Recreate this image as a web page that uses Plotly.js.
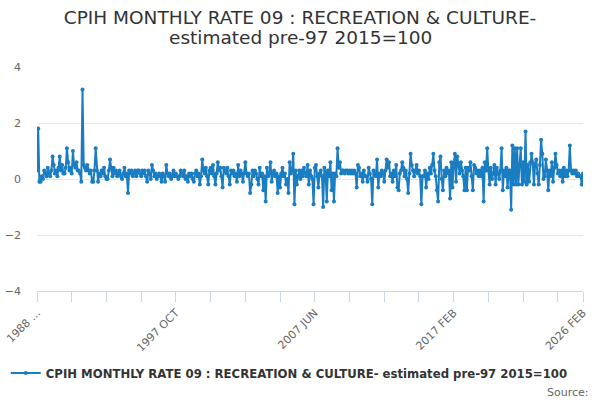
<!DOCTYPE html>
<html>
<head>
<meta charset="utf-8">
<script src="https://cdn.plot.ly/plotly-3.0.1.min.js"></script>
<style>
  body { margin: 0; background: #fff; }
  #chart { width: 600px; height: 400px; }
</style>
</head>
<body>
<div id="chart"></div>
<script>
// series runs monthly from 1988 FEB to 2026 FEB
var startYear = 1988
var startMonth = 1 // FEB
var monthNames = ["JAN", "FEB", "MAR", "APR", "MAY", "JUN", "JUL", "AUG", "SEP", "OCT", "NOV", "DEC"]

// monthly rate, % (one row per year)
var rates = [
  0.3, 1.8, -0.1, -0.1, 0.1, 0.0, 0.3, 0.2, 0.1, 0.4, 0.2,
  0.1, 0.3, 0.8, 0.5, 0.2, 0.3, 0.1, 0.4, 0.8, 0.3, 0.5, 0.2,
  0.2, 0.4, 1.1, 0.6, 0.3, 0.4, 0.2, 1.0, 0.5, 0.4, 0.6, 0.3,
  0.3, 0.2, -0.1, 3.2, 0.5, 0.4, 0.3, 0.5, 0.3, 0.2, 0.3, -0.1,
  -0.1, 0.3, 1.1, 0.3, -0.1, 0.2, 0.1, 0.3, 0.2, 0.4, 0.1, 0.0,
  0.0, 0.3, 0.7, 0.4, 0.1, 0.4, 0.2, 0.3, 0.1, 0.2, 0.3, 0.1,
  0.0, 0.2, 0.4, 0.1, 0.2, -0.5, 0.3, 0.2, 0.3, 0.1, 0.2, 0.3,
  0.1, 0.3, 0.3, 0.2, 0.1, 0.3, 0.2, 0.3, 0.1, -0.1, 0.3, 0.2,
  0.0, 0.5, 0.3, 0.1, 0.2, 0.0, 0.1, 0.2, 0.1, -0.1, 0.2, 0.1,
  -0.1, 0.5, 0.2, 0.1, 0.2, 0.0, 0.1, 0.3, 0.1, 0.2, 0.1, 0.0,
  0.1, 0.3, 0.2, 0.1, 0.3, 0.0, 0.1, -0.1, 0.2, 0.1, 0.2, 0.0,
  -0.1, 0.2, 0.3, 0.1, 0.2, -0.2, 0.1, 0.7, 0.3, 0.2, 0.4, 0.1,
  -0.2, 0.3, 0.4, 0.2, 0.5, 0.1, -0.2, 0.2, 0.6, 0.3, 0.4, 0.1,
  -0.3, 0.4, 0.3, 0.2, 0.4, 0.1, -0.2, 0.3, 0.2, 0.3, 0.1, 0.2,
  -0.1, 0.5, 0.1, 0.3, 0.2, -0.1, 0.2, 0.6, 0.2, 0.1, 0.2, -0.5,
  -0.2, 0.3, 0.1, 0.3, 0.2, 0.0, -0.2, 0.4, 0.1, 0.2, -0.4, 0.1,
  -0.8, 0.4, 0.1, 0.2, 0.6, -0.1, 0.2, 0.3, 0.1, 0.2, -0.5, 0.1,
  -0.3, 0.2, 0.4, 0.1, 0.2, -0.2, 0.0, -0.5, 0.6, 0.2, 0.3, 0.9,
  -0.9, 0.3, -0.2, 0.1, 0.3, 0.0, 0.3, 0.1, 0.4, 0.2, 0.1, 0.5,
  -0.2, 0.3, 0.1, 0.0, -0.9, 0.4, 0.5, 0.1, -0.3, 0.2, 0.3, 0.1,
  -1.0, 0.4, 0.2, -0.8, 0.3, 0.1, 0.6, -0.4, 0.2, -0.8, 0.2, 0.1,
  1.1, 0.4, 0.6, 0.2, 0.3, 0.3, 0.2, 0.3, 0.3, 0.2, 0.3, 0.2,
  0.3, 0.2, 0.3, 0.2, -0.3, 0.5, 0.4, 0.1, 0.2, -0.1, 0.3, 0.1,
  0.1, -0.1, 0.4, 0.2, 0.0, -0.9, 0.3, 0.2, 0.1, 0.7, -0.3, 0.2,
  0.1, 0.3, 0.2, -0.1, 0.3, 0.7, 0.4, 0.6, 0.1, 0.2, -0.1, 0.3,
  0.1, 0.5, -0.3, -0.4, 0.2, 0.3, 0.6, 0.4, 0.1, 0.3, 0.0, -0.5,
  0.2, 0.9, 0.5, 0.3, 0.1, 0.3, 0.5, 0.2, 0.3, 0.1, -0.9, 0.1,
  0.1, 0.3, -0.3, 0.2, 0.0, 0.4, 0.2, 0.5, 0.9, 0.3, 0.1, -0.4,
  -0.8, 0.6, 0.8, 0.0, -0.4, 0.3, 0.1, 0.4, 0.2, 0.3, -0.7, 0.6,
  -0.3, 0.5, 0.9, -0.1, 0.8, 0.5, 0.2, 0.6, 0.3, 0.1, -0.4, 0.4,
  -0.4, 0.4, 0.3, 0.6, 0.1, -0.4, 0.5, 0.4, 0.2, 0.3, 0.1, 0.3,
  0.1, 0.4, -0.8, 0.6, 0.3, 1.1, 0.3, -0.2, 0.4, 0.0, 0.2, 0.5,
  -0.2, 0.4, 0.2, 0.0, 0.3, 1.1, -0.4, 0.3, 0.1, 0.4, -0.3, 0.3,
  0.3, -1.1, 1.2, -0.2, 1.1, -0.2, 1.1, -0.2, 0.5, 1.1, -0.2, 0.6,
  -0.1, 1.7, -0.2, 0.5, -0.1, 0.6, 0.9, 0.6, -0.2, 0.5, 0.7, 0.2,
  -0.2, 0.5, 1.4, 0.9, 0.0, 0.1, 0.7, 0.3, -0.4, 0.3, 0.1, 0.6,
  -0.1, 0.4, 0.9, 0.5, 0.2, 0.3, 0.1, 0.3, -0.1, 0.4, 0.1, 0.3,
  0.1, 0.3, 1.2, 0.3, 0.2, 0.3, 0.2, 0.3, 0.1, 0.2, 0.1, 0.1,
  -0.2, 0.2
]

// x axis: a tick every 29 months, a label every 4th tick, plus the last month
var tickIndex = [0, 29, 58, 87, 116, 145, 174, 203, 232, 261, 290, 319, 348, 377, 406, 435, 456]
var tickLabel = ["1988 ...", "", "", "", "1997 OCT", "", "", "", "2007 JUN", "", "", "", "2017 FEB", "", "", "", "2026 FEB"]

var yTicks = [-4, -2, 0, 2, 4]

var titleLines = ["CPIH MONTHLY RATE 09 : RECREATION & CULTURE-", "estimated pre-97 2015=100"]
var seriesName = "CPIH MONTHLY RATE 09 : RECREATION & CULTURE- estimated pre-97 2015=100"
var lineColour = "#1a7dc2"

var months = []
for (var i = 0; i < rates.length; i++) {
  var m = startMonth + i
  months.push((startYear + Math.floor(m / 12)) + " " + monthNames[m % 12])
}

var tickVals = tickIndex.map(function (k) { return months[k] })

var font = "DejaVu Sans, Verdana, sans-serif"
var titleFont = { family: font, size: 18.5, color: "#333333" }

var trace = {
  x: months,
  y: rates,
  name: seriesName,
  type: "scatter",
  mode: "lines+markers",
  line: { color: lineColour, width: 2 },
  marker: { color: lineColour, size: 4 },
  hoverinfo: "none"
}

var layout = {
  width: 600,
  height: 400,
  margin: { t: 67, l: 37, r: 17, b: 109, autoexpand: false },
  paper_bgcolor: "#ffffff",
  plot_bgcolor: "#ffffff",
  font: { family: font, color: "#666666", size: 11 },
  // the title is two lines; plotly's line gap is wider than the original, so the
  // second line goes in an annotation just under it
  title: {
    text: titleLines[0],
    font: titleFont,
    xref: "container",
    x: 0.5,
    xanchor: "center",
    yref: "container",
    y: 0.955,
    yanchor: "middle"
  },
  showlegend: true,
  legend: {
    orientation: "h",
    x: 0.462,
    xanchor: "center",
    y: -0.366,
    yanchor: "middle",
    font: { family: font, size: 11.7, color: "#333333", weight: "bold" }
  },
  xaxis: {
    type: "category",
    range: [0, rates.length - 1],
    autorange: false,
    tickmode: "array",
    tickvals: tickVals,
    ticktext: tickLabel,
    tickangle: -45,
    ticks: "outside",
    ticklen: 10,
    tickcolor: "#ccd6eb",
    showline: true,
    linecolor: "#ccd6eb",
    linewidth: 1,
    showgrid: false,
    zeroline: false,
    tickfont: { family: font, size: 11, color: "#666666" }
  },
  yaxis: {
    range: [-4, 4],
    autorange: false,
    tickmode: "array",
    tickvals: yTicks,
    showgrid: true,
    gridcolor: "#e6e6e6",
    zeroline: false,
    showline: false,
    ticks: "",
    ticklabelstandoff: 15,
    tickfont: { family: font, size: 11, color: "#666666" }
  },
  annotations: [{
    text: titleLines[1],
    xref: "paper",
    yref: "paper",
    x: 0.4817,
    xanchor: "center",
    y: 1.1295,
    yanchor: "middle",
    showarrow: false,
    font: titleFont
  }, {
    text: "Source:",
    xref: "paper",
    yref: "paper",
    x: 1.014,
    xanchor: "right",
    y: -0.452,
    yanchor: "middle",
    showarrow: false,
    font: { family: font, size: 11, color: "#666666" }
  }],
  hovermode: false
}

Plotly.newPlot("chart", [trace], layout, { displayModeBar: false, staticPlot: true })
</script>
</body>
</html>
